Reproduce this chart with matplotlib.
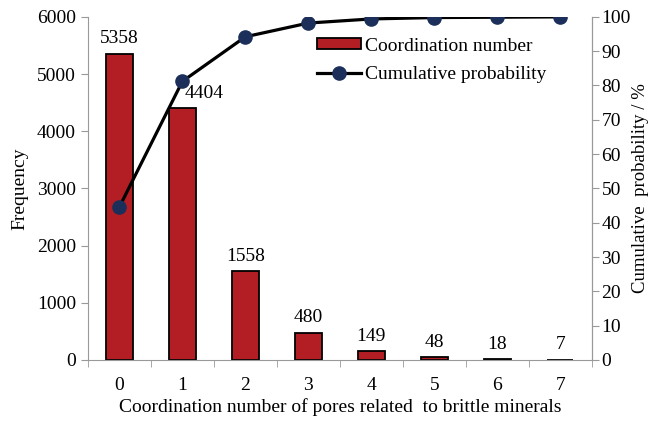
import numpy as np
import matplotlib.pyplot as plt

plt.rcParams['font.family'] = ['Liberation Serif', 'DejaVu Serif']
plt.rcParams['font.size'] = 14

# data
coord = [0, 1, 2, 3, 4, 5, 6, 7]
freq = [5358, 4404, 1558, 480, 149, 48, 18, 7]
cum_prob = [44.6, 81.2, 94.2, 98.2, 99.4, 99.8, 99.9, 100.0]

fig = plt.figure(figsize=(6.51, 4.22), dpi=100)
ax = fig.add_axes([0.135, 0.147, 0.774, 0.813])
ax2 = ax.twinx()

x = np.arange(len(coord))
bars = ax.bar(x, freq, width=0.42, color='#B21E24', edgecolor='black', linewidth=1.3,
              label='Coordination number', zorder=2)
for xi, v in zip(x, freq):
    dx = 0.35 if v == 4404 else 0  # label nudged right to avoid the line
    ax.text(xi + dx, v + 110, str(v), ha='center', va='bottom', fontsize=14)

line, = ax2.plot(x, cum_prob, color='black', lw=2.3, marker='o', markersize=9.5,
                 markerfacecolor='#1B2F5A', markeredgecolor='#1B2F5A',
                 label='Cumulative probability', zorder=3)

ax.set_xlim(-0.5, 7.5)
ax.set_ylim(0, 6000)
ax2.set_ylim(0, 100)
ax.set_yticks(np.arange(0, 6001, 1000))
ax2.set_yticks(np.arange(0, 101, 10))
ax.set_xticks(x)
ax.set_xticklabels([str(c) for c in coord])
ax.set_xticks(np.arange(-0.5, 8, 1), minor=True)
ax.tick_params(axis='x', which='major', length=0, pad=12)
ax.tick_params(axis='x', which='minor', length=5, color='#999999')
ax.tick_params(axis='y', length=5, color='#999999')
ax2.tick_params(axis='y', length=5, color='#999999', pad=2)

for a in (ax, ax2):
    a.spines['top'].set_visible(False)
    for s in ('left', 'right', 'bottom'):
        a.spines[s].set_color('#999999')
ax2.spines['left'].set_visible(False)
ax2.spines['bottom'].set_visible(False)

ax.set_xlabel('Coordination number of pores related  to brittle minerals', labelpad=3)
ax.set_ylabel('Frequency', labelpad=6)
ax2.set_ylabel('Cumulative  probability / %', labelpad=1, fontsize=13.5)

ax.set_zorder(ax2.get_zorder() - 1)
ax.patch.set_visible(False)
ax2.legend([bars, line], ['Coordination number', 'Cumulative probability'],
           loc='upper right', bbox_to_anchor=(0.945, 0.99), frameon=False,
           handlelength=2.3, handleheight=0.5, handletextpad=0.2, labelspacing=0.6,
           fontsize=14)

fig.savefig('out.png', dpi=100)
